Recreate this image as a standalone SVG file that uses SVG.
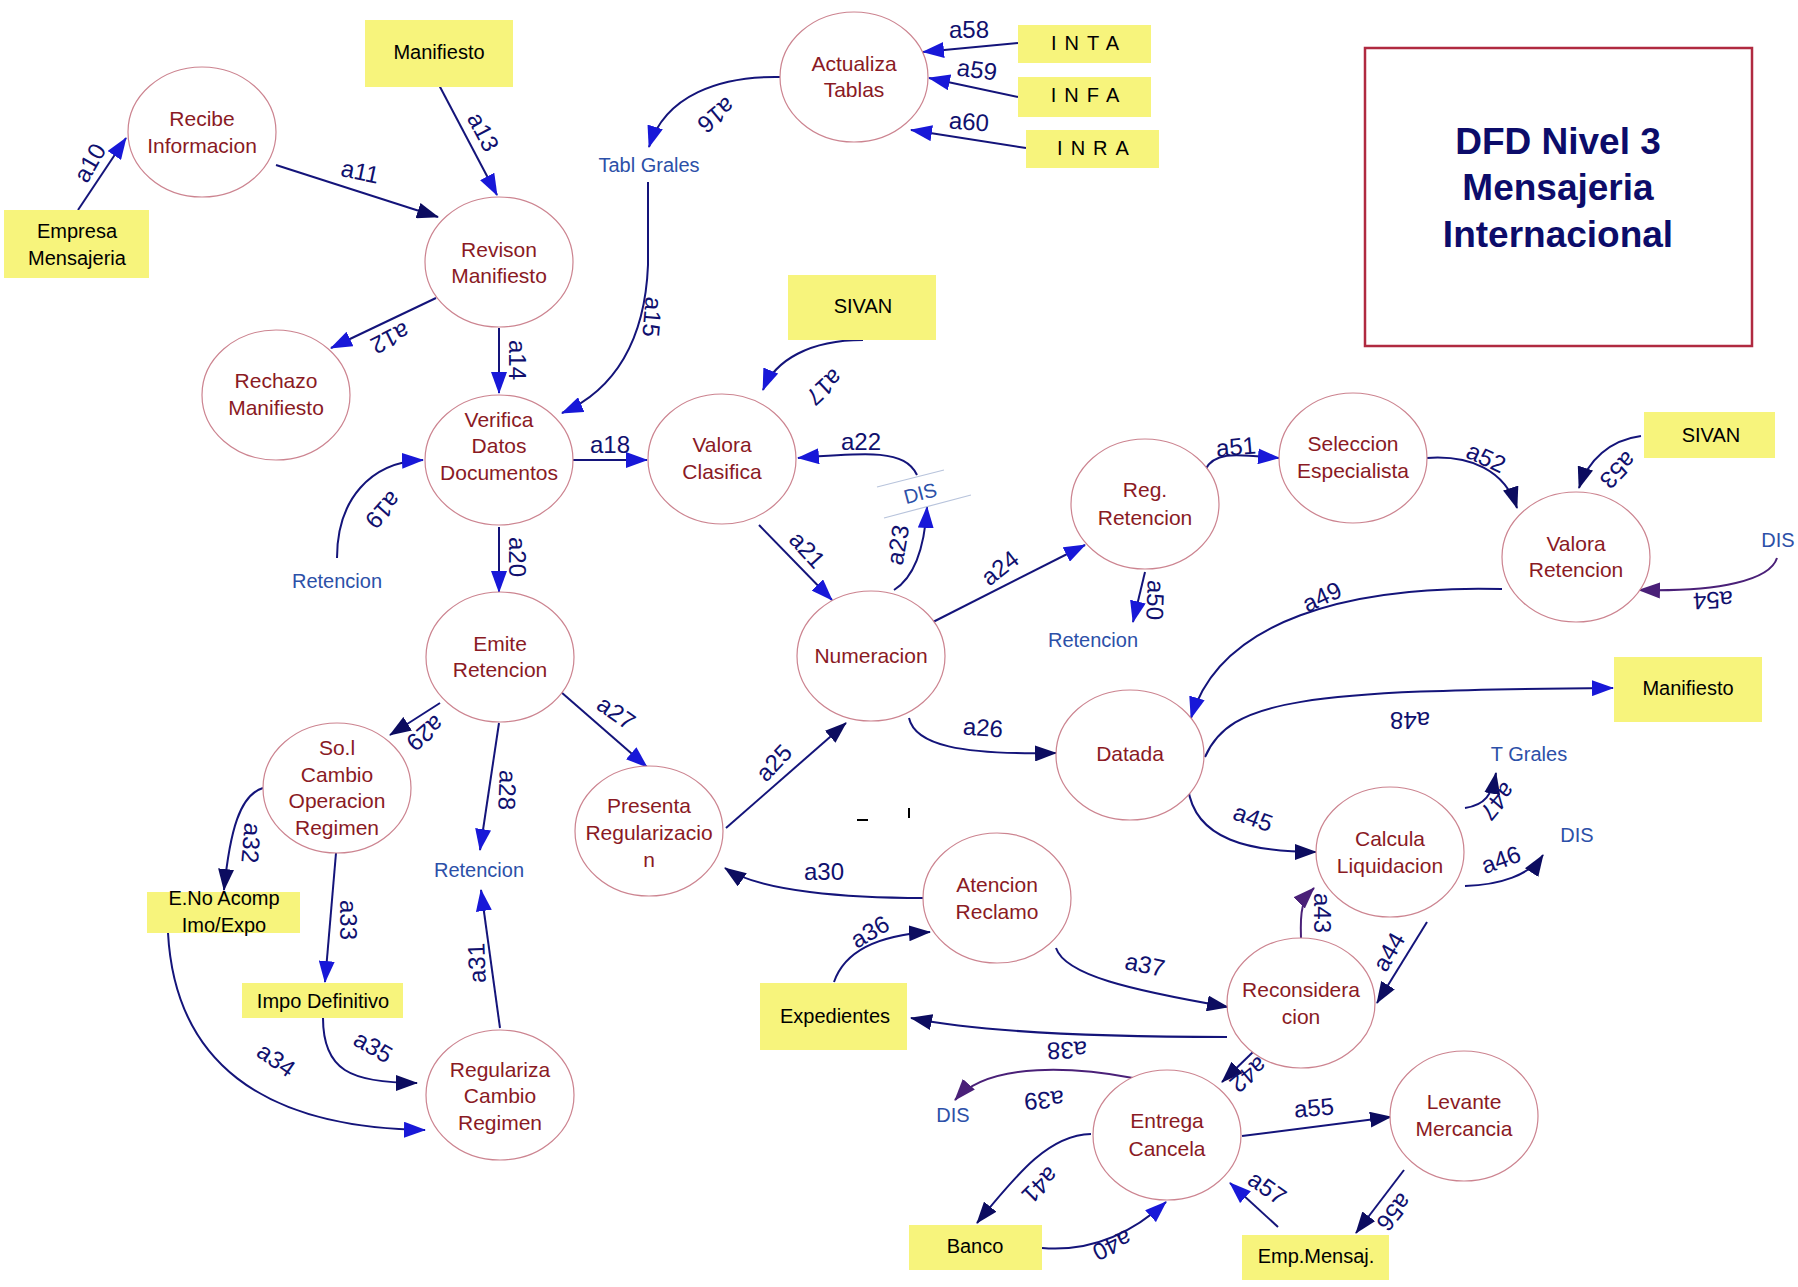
<svg xmlns="http://www.w3.org/2000/svg" width="1798" height="1287" viewBox="0 0 1798 1287">
<style>
.node ellipse{fill:#fff;stroke:#cc8490;stroke-width:1.2}
.nt{font-family:"Liberation Sans",Arial,sans-serif;font-size:21px;fill:#8a1a24;text-anchor:middle}
.box rect{fill:#f7f47c}
.bt{font-family:"Liberation Sans",Arial,sans-serif;font-size:20px;fill:#000;text-anchor:middle}
.st{font-family:"Liberation Sans",Arial,sans-serif;font-size:20px;fill:#2c50a8;text-anchor:middle}
.lb{font-family:"Liberation Sans",Arial,sans-serif;font-size:24px;fill:#10106e;text-anchor:middle}
.c{fill:none;stroke:#14147a;stroke-width:2}
.cb{marker-end:url(#ab)}
.cn{marker-end:url(#an)}
.cp{marker-end:url(#ap);stroke:#4a2078}
.title{font-family:"Liberation Sans",Arial,sans-serif;font-size:37px;font-weight:bold;fill:#0c0c6a;text-anchor:middle}
</style>
<defs>
<marker id="ab" viewBox="0 0 22 16" markerWidth="22" markerHeight="16" refX="21" refY="8" orient="auto" markerUnits="userSpaceOnUse"><path d="M0,0 L22,8 L0,16 Z" fill="#1818d8"/></marker>
<marker id="an" viewBox="0 0 22 16" markerWidth="22" markerHeight="16" refX="21" refY="8" orient="auto" markerUnits="userSpaceOnUse"><path d="M0,0 L22,8 L0,16 Z" fill="#0c0c60"/></marker>
<marker id="ap" viewBox="0 0 22 16" markerWidth="22" markerHeight="16" refX="21" refY="8" orient="auto" markerUnits="userSpaceOnUse"><path d="M0,0 L22,8 L0,16 Z" fill="#4a2078"/></marker>
</defs>
<rect width="1798" height="1287" fill="#fff"/>

<g id="title">
<rect x="1365" y="48" width="387" height="298" fill="none" stroke="#b02a40" stroke-width="2.5"/>
<text class="title" x="1558" y="154">DFD Nivel 3</text>
<text class="title" x="1558" y="200">Mensajeria</text>
<text class="title" x="1558" y="247">Internacional</text>
</g>

<g id="connectors">
<path class="c cb" d="M78 210 L126 138"/>
<path class="c cn" d="M276 165 L438 217"/>
<path class="c cb" d="M436 298 L331 348"/>
<path class="c cb" d="M439 85 L497 195"/>
<path class="c cb" d="M499 328 L499 393"/>
<path class="c cb" d="M780 77 C720 76 665 95 649 147"/>
<path class="c cb" d="M648 182 L648 265 C645 340 615 390 562 413"/>
<path class="c cb" d="M863 340 C810 340 775 360 763 390"/>
<path class="c cb" d="M573 460 L647 460"/>
<path class="c cb" d="M917 475 C905 450 870 452 798 458"/>
<path class="c cb" d="M894 590 C918 575 925 540 927 507"/>
<path class="c cb" d="M759 525 L832 600"/>
<path class="c cb" d="M933 622 L1085 545"/>
<path class="c cn" d="M726 828 L846 723"/>
<path class="c cn" d="M909 718 C915 745 960 755 1056 753"/>
<path class="c cb" d="M561 692 L647 767"/>
<path class="c cb" d="M337 558 C337 500 370 462 423 460"/>
<path class="c cb" d="M499 527 L499 592"/>
<path class="c cn" d="M440 703 L390 735"/>
<path class="c cb" d="M499 723 L480 850"/>
<path class="c cn" d="M263 788 C240 795 230 830 224 890"/>
<path class="c cb" d="M336 853 L325 982"/>
<path class="c cb" d="M168 933 C175 1060 260 1128 425 1130"/>
<path class="c cn" d="M323 1018 C323 1070 350 1083 417 1083"/>
<path class="c cb" d="M500 1028 L481 890"/>
<path class="c cn" d="M924 898 C850 898 760 892 725 868"/>
<path class="c cn" d="M834 982 C845 950 880 935 930 932"/>
<path class="c cn" d="M1056 948 C1065 975 1130 990 1228 1007"/>
<path class="c cn" d="M1227 1037 C1100 1037 980 1032 911 1018"/>
<path class="c cn" d="M1253 1052 L1222 1082"/>
<path class="c cp" d="M1133 1078 C1080 1068 990 1060 955 1100"/>
<path class="c cn" d="M1091 1134 C1050 1135 1020 1170 977 1223"/>
<path class="c cb" d="M1042 1248 C1090 1252 1130 1235 1166 1202"/>
<path class="c cb" d="M1278 1227 L1230 1183"/>
<path class="c cn" d="M1242 1136 L1391 1117"/>
<path class="c cn" d="M1404 1170 L1356 1233"/>
<path class="c cp" d="M1301 938 C1300 910 1302 900 1314 888"/>
<path class="c cn" d="M1427 922 L1377 1003"/>
<path class="c cn" d="M1188 788 C1195 840 1250 852 1316 852"/>
<path class="c cn" d="M1465 886 C1500 885 1530 875 1543 855"/>
<path class="c cn" d="M1465 808 C1485 805 1492 795 1496 773"/>
<path class="c cb" d="M1205 757 C1230 700 1300 690 1613 688"/>
<path class="c cb" d="M1502 589 C1350 585 1220 620 1191 718"/>
<path class="c cb" d="M1145 572 L1133 622"/>
<path class="c cb" d="M1205 470 C1215 450 1240 455 1279 458"/>
<path class="c cn" d="M1427 458 C1470 455 1505 470 1517 508"/>
<path class="c cn" d="M1641 436 C1610 440 1588 460 1579 488"/>
<path class="c cp" d="M1777 558 C1770 580 1720 592 1639 590"/>
<path class="c cb" d="M1018 43 L923 52"/>
<path class="c cb" d="M1018 97 L929 78"/>
<path class="c cb" d="M1026 148 L911 130"/>
<path d="M857 820 L868 820 M909 808 L909 818" stroke="#000" stroke-width="2"/>
<path d="M877 487 L944 470 M884 518 L971 495" stroke="#b8c4dc" stroke-width="1.2"/>

<text class="lb" transform="translate(90,163) rotate(-60)" dy="8">a10</text>
<text class="lb" transform="translate(360,172) rotate(12)" dy="8">a11</text>
<text class="lb" transform="translate(390,338) rotate(153)" dy="8">a12</text>
<text class="lb" transform="translate(483,132) rotate(62)" dy="8">a13</text>
<text class="lb" transform="translate(517,360) rotate(90)" dy="8">a14</text>
<text class="lb" transform="translate(652,317) rotate(95)" dy="8">a15</text>
<text class="lb" transform="translate(716,115) rotate(140)" dy="8">a16</text>
<text class="lb" transform="translate(824,387) rotate(137)" dy="8">a17</text>
<text class="lb" transform="translate(610,445)" dy="8">a18</text>
<text class="lb" transform="translate(383,510) rotate(132)" dy="8">a19</text>
<text class="lb" transform="translate(517,557) rotate(90)" dy="8">a20</text>
<text class="lb" transform="translate(807,550) rotate(48)" dy="8">a21</text>
<text class="lb" transform="translate(861,442)" dy="8">a22</text>
<text class="lb" transform="translate(898,545) rotate(-80)" dy="8">a23</text>
<text class="lb" transform="translate(1000,568) rotate(-38)" dy="8">a24</text>
<text class="lb" transform="translate(774,763) rotate(-47)" dy="8">a25</text>
<text class="lb" transform="translate(983,728) rotate(4)" dy="8">a26</text>
<text class="lb" transform="translate(616,713) rotate(35)" dy="8">a27</text>
<text class="lb" transform="translate(507,790) rotate(92)" dy="8">a28</text>
<text class="lb" transform="translate(425,733) rotate(140)" dy="8">a29</text>
<text class="lb" transform="translate(824,872)" dy="8">a30</text>
<text class="lb" transform="translate(477,963) rotate(-92)" dy="8">a31</text>
<text class="lb" transform="translate(251,843) rotate(95)" dy="8">a32</text>
<text class="lb" transform="translate(348,920) rotate(90)" dy="8">a33</text>
<text class="lb" transform="translate(276,1060) rotate(35)" dy="8">a34</text>
<text class="lb" transform="translate(373,1047) rotate(30)" dy="8">a35</text>
<text class="lb" transform="translate(870,932) rotate(-30)" dy="8">a36</text>
<text class="lb" transform="translate(1145,965) rotate(12)" dy="8">a37</text>
<text class="lb" transform="translate(1067,1050) rotate(178)" dy="8">a38</text>
<text class="lb" transform="translate(1044,1100) rotate(175)" dy="8">a39</text>
<text class="lb" transform="translate(1112,1245) rotate(154)" dy="8">a40</text>
<text class="lb" transform="translate(1040,1185) rotate(135)" dy="8">a41</text>
<text class="lb" transform="translate(1247,1073) rotate(140)" dy="6" font-size="18">a42</text>
<text class="lb" transform="translate(1322,913) rotate(90)" dy="8" fill="#4a2078">a43</text>
<text class="lb" transform="translate(1389,952) rotate(-60)" dy="8">a44</text>
<text class="lb" transform="translate(1253,818) rotate(20)" dy="8">a45</text>
<text class="lb" transform="translate(1501,860) rotate(-20)" dy="8">a46</text>
<text class="lb" transform="translate(1496,800) rotate(130)" dy="6" font-size="18">a47</text>
<text class="lb" transform="translate(1410,720) rotate(180)" dy="8">a48</text>
<text class="lb" transform="translate(1322,597) rotate(-25)" dy="8">a49</text>
<text class="lb" transform="translate(1155,600) rotate(92)" dy="8">a50</text>
<text class="lb" transform="translate(1236,447) rotate(-5)" dy="8">a51</text>
<text class="lb" transform="translate(1486,458) rotate(25)" dy="8">a52</text>
<text class="lb" transform="translate(1618,470) rotate(134)" dy="8">a53</text>
<text class="lb" transform="translate(1713,600) rotate(177)" dy="8">a54</text>
<text class="lb" transform="translate(1314,1108) rotate(-5)" dy="8">a55</text>
<text class="lb" transform="translate(1394,1212) rotate(129)" dy="8">a56</text>
<text class="lb" transform="translate(1267,1188) rotate(35)" dy="8">a57</text>
<text class="lb" transform="translate(969,30)" dy="8">a58</text>
<text class="lb" transform="translate(977,70) rotate(8)" dy="8">a59</text>
<text class="lb" transform="translate(969,122) rotate(4)" dy="8">a60</text>
</g>

<g id="stores">
<text class="st" x="649" y="172">Tabl Grales</text>
<text class="st" x="337" y="588">Retencion</text>
<text class="st" x="479" y="877">Retencion</text>
<text class="st" x="1093" y="647">Retencion</text>
<text class="st" transform="translate(922,500) rotate(-15)">DIS</text>
<text class="st" x="1778" y="547">DIS</text>
<text class="st" x="1529" y="761">T Grales</text>
<text class="st" x="1577" y="842">DIS</text>
<text class="st" x="953" y="1122">DIS</text>
</g>

<g id="recibe" class="node"><ellipse cx="202" cy="132" rx="74" ry="65"/><text class="nt" x="202" y="126">Recibe</text><text class="nt" x="202" y="153">Informacion</text></g>
<g id="revison" class="node"><ellipse cx="499" cy="262" rx="74" ry="65"/><text class="nt" x="499" y="257">Revison</text><text class="nt" x="499" y="283">Manifiesto</text></g>
<g id="rechazo" class="node"><ellipse cx="276" cy="395" rx="74" ry="65"/><text class="nt" x="276" y="388">Rechazo</text><text class="nt" x="276" y="415">Manifiesto</text></g>
<g id="verifica" class="node"><ellipse cx="499" cy="460" rx="74" ry="65"/><text class="nt" x="499" y="427">Verifica</text><text class="nt" x="499" y="453">Datos</text><text class="nt" x="499" y="480">Documentos</text></g>
<g id="valora" class="node"><ellipse cx="722" cy="459" rx="74" ry="65"/><text class="nt" x="722" y="452">Valora</text><text class="nt" x="722" y="479">Clasifica</text></g>
<g id="emite" class="node"><ellipse cx="500" cy="657" rx="74" ry="65"/><text class="nt" x="500" y="651">Emite</text><text class="nt" x="500" y="677">Retencion</text></g>
<g id="sol" class="node"><ellipse cx="337" cy="788" rx="74" ry="65"/><text class="nt" x="337" y="755">So.l</text><text class="nt" x="337" y="782">Cambio</text><text class="nt" x="337" y="808">Operacion</text><text class="nt" x="337" y="835">Regimen</text></g>
<g id="presenta" class="node"><ellipse cx="649" cy="831" rx="74" ry="65"/><text class="nt" x="649" y="813">Presenta</text><text class="nt" x="649" y="840">Regularizacio</text><text class="nt" x="649" y="867">n</text></g>
<g id="numeracion" class="node"><ellipse cx="871" cy="656" rx="74" ry="65"/><text class="nt" x="871" y="663">Numeracion</text></g>
<g id="regulariza" class="node"><ellipse cx="500" cy="1095" rx="74" ry="65"/><text class="nt" x="500" y="1077">Regulariza</text><text class="nt" x="500" y="1103">Cambio</text><text class="nt" x="500" y="1130">Regimen</text></g>
<g id="actualiza" class="node"><ellipse cx="854" cy="77" rx="74" ry="65"/><text class="nt" x="854" y="71">Actualiza</text><text class="nt" x="854" y="97">Tablas</text></g>
<g id="regret" class="node"><ellipse cx="1145" cy="504" rx="74" ry="65"/><text class="nt" x="1145" y="497">Reg.</text><text class="nt" x="1145" y="525">Retencion</text></g>
<g id="seleccion" class="node"><ellipse cx="1353" cy="458" rx="74" ry="65"/><text class="nt" x="1353" y="451">Seleccion</text><text class="nt" x="1353" y="478">Especialista</text></g>
<g id="valoraret" class="node"><ellipse cx="1576" cy="557" rx="74" ry="65"/><text class="nt" x="1576" y="551">Valora</text><text class="nt" x="1576" y="577">Retencion</text></g>
<g id="datada" class="node"><ellipse cx="1130" cy="755" rx="74" ry="65"/><text class="nt" x="1130" y="761">Datada</text></g>
<g id="calcula" class="node"><ellipse cx="1390" cy="852" rx="74" ry="65"/><text class="nt" x="1390" y="846">Calcula</text><text class="nt" x="1390" y="873">Liquidacion</text></g>
<g id="atencion" class="node"><ellipse cx="997" cy="898" rx="74" ry="65"/><text class="nt" x="997" y="892">Atencion</text><text class="nt" x="997" y="919">Reclamo</text></g>
<g id="reconsidera" class="node"><ellipse cx="1301" cy="1003" rx="74" ry="65"/><text class="nt" x="1301" y="997">Reconsidera</text><text class="nt" x="1301" y="1024">cion</text></g>
<g id="entrega" class="node"><ellipse cx="1167" cy="1135" rx="74" ry="65"/><text class="nt" x="1167" y="1128" fill="#3a2a80">Entrega</text><text class="nt" x="1167" y="1156" fill="#3a2a80">Cancela</text></g>
<g id="levante" class="node"><ellipse cx="1464" cy="1116" rx="74" ry="65"/><text class="nt" x="1464" y="1109">Levante</text><text class="nt" x="1464" y="1136">Mercancia</text></g>

<g id="manifiesto1" class="box"><rect x="365" y="20" width="148" height="67"/><text class="bt" x="439" y="59">Manifiesto</text></g>
<g id="empresa" class="box"><rect x="4" y="210" width="145" height="68"/><text class="bt" x="77" y="238">Empresa</text><text class="bt" x="77" y="265">Mensajeria</text></g>
<g id="inta" class="box"><rect x="1018" y="25" width="133" height="38"/><text class="bt" x="1089" y="50" letter-spacing="8">INTA</text></g>
<g id="infa" class="box"><rect x="1018" y="77" width="133" height="40"/><text class="bt" x="1089" y="102" letter-spacing="8">INFA</text></g>
<g id="inra" class="box"><rect x="1026" y="130" width="133" height="38"/><text class="bt" x="1097" y="155" letter-spacing="8">INRA</text></g>
<g id="sivan1" class="box"><rect x="788" y="275" width="148" height="65"/><text class="bt" x="863" y="313">SIVAN</text></g>
<g id="sivan2" class="box"><rect x="1644" y="412" width="131" height="46"/><text class="bt" x="1711" y="442">SIVAN</text></g>
<g id="manifiesto2" class="box"><rect x="1614" y="657" width="148" height="65"/><text class="bt" x="1688" y="695">Manifiesto</text></g>
<g id="enoacomp" class="box"><rect x="147" y="892" width="153" height="41"/><text class="bt" x="224" y="905">E.No Acomp</text><text class="bt" x="224" y="932">Imo/Expo</text></g>
<g id="impo" class="box"><rect x="242" y="983" width="161" height="35"/><text class="bt" x="323" y="1008">Impo Definitivo</text></g>
<g id="expedientes" class="box"><rect x="760" y="983" width="147" height="67"/><text class="bt" x="835" y="1023">Expedientes</text></g>
<g id="banco" class="box"><rect x="909" y="1225" width="133" height="45"/><text class="bt" x="975" y="1253">Banco</text></g>
<g id="empmensaj" class="box"><rect x="1242" y="1235" width="147" height="45"/><text class="bt" x="1316" y="1263">Emp.Mensaj.</text></g>
</svg>
